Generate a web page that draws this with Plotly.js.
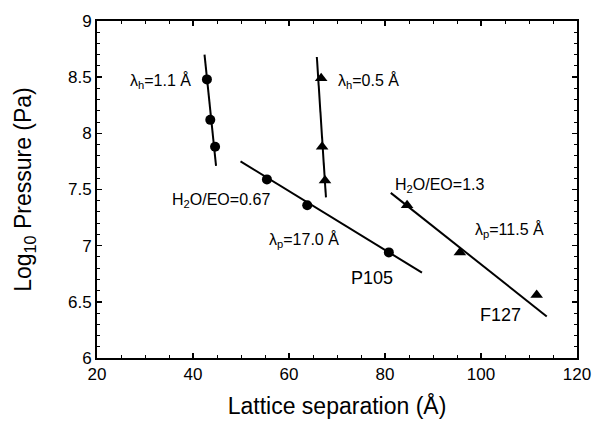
<!DOCTYPE html>
<html><head><meta charset="utf-8">
<script src="https://cdn.plot.ly/plotly-3.0.1.min.js"></script>
<style>html,body{margin:0;padding:0;background:#fff}#plot{width:593px;height:422px}</style>
</head><body><div id="plot"></div>
<script>
// P105 (circles)
const p105HighX = [42.9, 43.6, 44.6];
const p105HighY = [8.48, 8.12, 7.88];
const p105LowX = [55.4, 63.8, 80.8];
const p105LowY = [7.59, 7.36, 6.94];
// F127 (triangles)
const f127HighX = [66.7, 66.9, 67.5];
const f127HighY = [8.49, 7.88, 7.58];
const f127LowX = [84.6, 95.6, 111.6];
const f127LowY = [7.36, 6.94, 6.56];
// Fit lines (endpoints)
const fitH11X = [42.4, 44.8];   const fitH11Y = [8.70, 7.71];
const fitP17X = [49.9, 87.7];   const fitP17Y = [7.75, 6.76];
const fitH05X = [65.8, 67.7];   const fitH05Y = [8.68, 7.43];
const fitP115X = [81.2, 113.7]; const fitP115Y = [7.47, 6.37];

const xTitle = 'Lattice separation (Å)';
const yTitle = 'Log<sub>10</sub> Pressure (Pa)';
const xTicks = [20, 40, 60, 80, 100, 120];
const yTicks = [6, 6.5, 7, 7.5, 8, 8.5, 9];

const lineStyle = {color: '#000', width: 2};
const traces = [
  {x: fitH11X, y: fitH11Y, mode: 'lines', line: lineStyle},
  {x: fitP17X, y: fitP17Y, mode: 'lines', line: lineStyle},
  {x: fitH05X, y: fitH05Y, mode: 'lines', line: lineStyle},
  {x: fitP115X, y: fitP115Y, mode: 'lines', line: lineStyle},
  {x: p105HighX.concat(p105LowX), y: p105HighY.concat(p105LowY), mode: 'markers',
   marker: {symbol: 'circle', size: 10, color: '#000'}},
  {x: f127HighX.concat(f127LowX), y: f127HighY.concat(f127LowY), mode: 'markers',
   marker: {symbol: 'triangle-up', size: 11, color: '#000'}}
];

const fnt = {family: 'Liberation Sans, Arial, sans-serif', color: '#000'};
function ann(text, x, y, size) {
  return {text: text, x: x, y: y, xref: 'x', yref: 'y', showarrow: false,
          font: Object.assign({}, fnt, {size: size}), xanchor: 'center', yanchor: 'middle'};
}
const annotations = [
  ann('λ<sub>h</sub>=1.1 Å', 33.3, 8.47, 16),
  ann('λ<sub>h</sub>=0.5 Å', 76.5, 8.47, 16),
  ann('H<sub>2</sub>O/EO=0.67', 45.8, 7.40, 16),
  ann('H<sub>2</sub>O/EO=1.3', 91.3, 7.54, 16),
  ann('λ<sub>p</sub>=17.0 Å', 63.2, 7.05, 16),
  ann('λ<sub>p</sub>=11.5 Å', 106.0, 7.14, 16),
  ann('P105', 77.3, 6.71, 18),
  ann('F127', 104.0, 6.38, 18)
];

const axisCommon = {
  showgrid: false, zeroline: false, showline: true, linecolor: '#000', linewidth: 2,
  mirror: 'allticks', ticks: 'inside', ticklen: 5, tickwidth: 1.5, tickcolor: '#000',
  tickfont: Object.assign({}, fnt, {size: 17})
};
const layout = {
  width: 593, height: 422,
  margin: {l: 97, r: 16, t: 21, b: 64},
  paper_bgcolor: '#fff', plot_bgcolor: '#fff',
  showlegend: false,
  xaxis: Object.assign({}, axisCommon, {
    range: [20, 120], tickvals: xTicks, ticktext: xTicks.map(String),
    minor: {dtick: 5, ticks: 'inside', ticklen: 3, tickwidth: 1, tickcolor: '#000'},
    title: {text: xTitle, font: Object.assign({}, fnt, {size: 23}), standoff: 14}
  }),
  yaxis: Object.assign({}, axisCommon, {
    range: [6, 9], tickvals: yTicks, ticktext: yTicks.map(String),
    minor: {dtick: 0.1, ticks: 'inside', ticklen: 3, tickwidth: 1, tickcolor: '#000'},
    title: {text: yTitle, font: Object.assign({}, fnt, {size: 23}), standoff: 30}
  }),
  annotations: annotations
};
Plotly.newPlot('plot', traces, layout, {displayModeBar: false, staticPlot: true});
</script></body></html>
